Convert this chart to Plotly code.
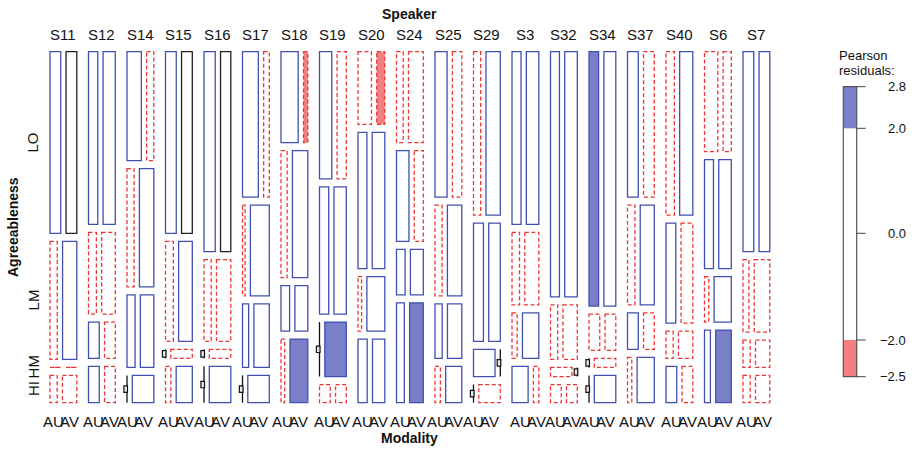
import numpy as np
import plotly.graph_objects as go

# ---- data: Speaker x Agreeableness x Modality frequencies ----
speakers = ["S11", "S12", "S14", "S15", "S16", "S17", "S18", "S19", "S20", "S24",
            "S25", "S29", "S3", "S32", "S34", "S37", "S40", "S6", "S7"]
levels = ["LO", "LM", "HM", "HI"]
modalities = ["AU", "AV"]

lo_au = [10, 8.2, 8, 10, 11.5, 11.8, 8, 8, 5, 3.1, 9, 6, 8, 11.2, 12.5, 8, 7, 6.8, 11]
lo_av = [10, 10.8, 4, 10, 10.5, 4.2, 2, 6, 3, 6.9, 7, 12, 11, 15.8, 15.5, 8, 11, 4.2, 11]
lm_au = [4.4, 3.3, 4.3, 4, 3, 1.2, 4, 6, 6.2, 5.8, 3.3, 6, 2.8, 2, 2, 3.8, 5, 5, 2.2]
lm_av = [8.6, 5.7, 8.7, 7, 6, 8.8, 10, 8, 8.8, 4.2, 6.7, 7, 5.2, 4, 2, 7.2, 6, 7, 5.8]
hm_au = [0, 2, 3, 0, 0, 2, 2, 0, 1, 2, 2, 3, 1.2, 1, 0, 2, 1, 1, 1]
hm_av = [0, 2, 5, 1, 1, 5, 3, 6, 5, 3, 4, 0, 3.8, 0, 1, 2, 2, 4, 2]
hi_au = [1, 2, 0, 1, 0, 0, 1.2, 1, 3, 4, 1, 0, 3, 1, 0, 1, 2, 2.2, 1]
hi_av = [2, 2, 3, 3, 4, 3, 5.8, 1, 4, 7, 3, 2, 1, 1, 3, 4, 2, 5.8, 2]

# Pearson residuals (approximate)
lo_res_au = [1, 1, 1, 1, 1, 1, 1, 1, -1, -1, 1, -1, 1, 1, 2.5, 1, -1, -1, 1]
lo_res_av = [0, 1, -1, 0, 0, -1, -2.3, -1, -2.4, -1, -1, 1, 1, 1, 1, -1, 1, -1, 1]
lm_res_au = [-1, -1, -1, -1, -1, -1, -1, 1, 1, 1, -1, 1, -1, -1, -1, -1, 1, 1, -1]
lm_res_av = [1, -1, 1, 1, -1, 1, 1, 1, 1, -1, 1, 1, -1, -1, -1, 1, -1, 1, -1]
hm_res_au = [-1, 1, 1, -1, -1, 1, 1, -1, -1, 1, 1, 1, -1, -1, -1, 1, -1, -1, -1]
hm_res_av = [-1, -1, 1, -1, -1, 1, 1, 2.4, 1, 1, 1, -1, 1, -1, -1, -1, -1, 1, -1]
hi_res_au = [-1, 1, -1, -1, -1, -1, -1, -1, 1, 1, -1, -1, 1, -1, -1, -1, 1, 1, -1]
hi_res_av = [-1, -1, 1, 1, 1, 1, 2.6, -1, 1, 2.5, 1, -1, -1, -1, 1, 1, -1, 2.7, -1]

legend_ticks = [2.8, 2.0, 0.0, -2.0, -2.5]

# ---- layout constants ----
X_LEFT, STEP, COL_W, MOD_GAP = 50.0, 38.5, 26.8, 5.3
Y_TOP, Y_BOT, LEV_GAP = 51.7, 402.7, 8.0
FONT = "Liberation Sans, Arial, sans-serif"

BLUE_LINE = "#4050b0"
BLUE_FILL = "#7a7fc8"
RED_LINE = "#ee3535"
RED_FILL = "#f47f7f"
DASH = "4px,2.5px"

au_counts = [lo_au, lm_au, hm_au, hi_au]
av_counts = [lo_av, lm_av, hm_av, hi_av]
au_res = [lo_res_au, lm_res_au, hm_res_au, hi_res_au]
av_res = [lo_res_av, lm_res_av, hm_res_av, hi_res_av]


def cell_style(r):
    if r > 2:
        return dict(fill=BLUE_FILL, color=BLUE_LINE, dash="solid")
    if r > 0:
        return dict(fill="rgba(0,0,0,0)", color=BLUE_LINE, dash="solid")
    if r == 0:
        return dict(fill="rgba(0,0,0,0)", color="#222222", dash="solid")
    if r >= -2:
        return dict(fill="rgba(0,0,0,0)", color=RED_LINE, dash=DASH)
    return dict(fill=RED_FILL, color=RED_LINE, dash=DASH)


shapes = []
annotations = []
marker_x, marker_y = [], []
first_col_centers = []
content_w = COL_W - MOD_GAP

for i, spk in enumerate(speakers):
    x0 = X_LEFT + i * STEP
    total = sum(au_counts[k][i] + av_counts[k][i] for k in range(4))
    unit = (Y_BOT - Y_TOP - 3 * LEV_GAP) / total
    y = Y_TOP
    label_pos = None
    for k in range(4):
        a, v = au_counts[k][i], av_counts[k][i]
        h = (a + v) * unit
        wa = content_w * a / (a + v) if a + v > 0 else content_w / 2
        cells = [
            (x0, x0 + wa, a, au_res[k][i], x0),
            (x0 + wa + MOD_GAP, x0 + COL_W, v, av_res[k][i], x0 + COL_W),
        ]
        centers = []
        for cx0, cx1, cnt, r, edge in cells:
            if cnt == 0 and a + v > 0:
                xl = cx0 if edge == x0 else cx1
                shapes.append(dict(type="line", xref="x", yref="y", x0=xl, x1=xl,
                                   y0=y, y1=y + h, line=dict(color="#111111", width=1.3)))
                marker_x.append(xl - 1.3)
                marker_y.append(y + h / 2)
                centers.append(xl)
            else:
                st = cell_style(r)
                shapes.append(dict(type="rect", xref="x", yref="y", x0=cx0, x1=cx1,
                                   y0=y, y1=y + h, fillcolor=st["fill"],
                                   line=dict(color=st["color"], width=1.3, dash=st["dash"])))
                centers.append((cx0 + cx1) / 2)
        if i == 0:
            first_col_centers.append(y + h / 2)
        if k == 3:
            label_pos = centers
        y += h + LEV_GAP

    # speaker label on top
    annotations.append(dict(x=x0 + COL_W / 2, y=34, text=spk, xref="x", yref="y",
                            showarrow=False, font=dict(family=FONT, size=15, color="#111")))
    # modality labels at the bottom
    for m, cx in zip(modalities, label_pos):
        annotations.append(dict(x=cx, y=421, text=m, xref="x", yref="y",
                                showarrow=False, font=dict(family=FONT, size=15, color="#111")))

# zero-count markers
for mx, my in zip(marker_x, marker_y):
    shapes.append(dict(type="rect", xref="x", yref="y", x0=mx - 1.8, x1=mx + 1.8,
                       y0=my - 3.2, y1=my + 3.2, fillcolor="#e8e8e8",
                       line=dict(color="#111111", width=1.2)))

# axis titles
annotations.append(dict(x=X_LEFT + (18 * STEP + COL_W) / 2, y=14, text="<b>Speaker</b>",
                        xref="x", yref="y", showarrow=False,
                        font=dict(family=FONT, size=14, color="#111")))
annotations.append(dict(x=X_LEFT + (18 * STEP + COL_W) / 2, y=438, text="<b>Modality</b>",
                        xref="x", yref="y", showarrow=False,
                        font=dict(family=FONT, size=14, color="#111")))
annotations.append(dict(x=13, y=227, text="<b>Agreeableness</b>", textangle=-90,
                        xref="x", yref="y", showarrow=False,
                        font=dict(family=FONT, size=14, color="#111")))
for lev, cy in zip(levels, first_col_centers):
    annotations.append(dict(x=33, y=cy, text=lev, textangle=-90, xref="x", yref="y",
                            showarrow=False, font=dict(family=FONT, size=15, color="#111")))

# ---- residual legend ----
LEG_X0, LEG_X1 = 843.3, 856.7
leg_vals = np.array([2.8, 2.0, 0.0, -2.0, -2.5])
leg_pos = np.array([86.7, 128.3, 233.3, 340.0, 376.7])


def leg_y(v):
    return float(np.interp(-v, -leg_vals, leg_pos))


shapes.append(dict(type="rect", xref="x", yref="y", x0=LEG_X0, x1=LEG_X1,
                   y0=leg_y(2.8), y1=leg_y(2.0), fillcolor=BLUE_FILL, line=dict(width=0)))
shapes.append(dict(type="rect", xref="x", yref="y", x0=LEG_X0, x1=LEG_X1,
                   y0=leg_y(-2.0), y1=leg_y(-2.5), fillcolor=RED_FILL, line=dict(width=0)))
shapes.append(dict(type="rect", xref="x", yref="y", x0=LEG_X0, x1=LEG_X1,
                   y0=leg_y(2.8), y1=leg_y(-2.5), fillcolor="rgba(0,0,0,0)",
                   line=dict(color="#555555", width=1.2)))
for t in legend_ticks:
    ty = leg_y(t)
    shapes.append(dict(type="line", xref="x", yref="y", x0=LEG_X1, x1=LEG_X1 + 9,
                       y0=ty, y1=ty, line=dict(color="#444444", width=1)))
    annotations.append(dict(x=908, y=ty, text=f"{t:.1f}".replace("-", "\u2212"),
                            xref="x", yref="y", xanchor="right", showarrow=False,
                            font=dict(family=FONT, size=13, color="#111")))
annotations.append(dict(x=837, y=55, text="Pearson", xref="x", yref="y", xanchor="left",
                        showarrow=False, font=dict(family=FONT, size=13, color="#111")))
annotations.append(dict(x=837, y=70, text="residuals:", xref="x", yref="y", xanchor="left",
                        showarrow=False, font=dict(family=FONT, size=13, color="#111")))

fig = go.Figure()
fig.add_trace(go.Scatter(x=[None], y=[None], mode="markers", hoverinfo="skip"))
fig.update_layout(
    width=915, height=449, margin=dict(l=0, r=0, t=0, b=0),
    paper_bgcolor="white", plot_bgcolor="white", showlegend=False,
    xaxis=dict(range=[0, 915], visible=False, fixedrange=True),
    yaxis=dict(range=[449, 0], visible=False, fixedrange=True),
    shapes=shapes, annotations=annotations,
)
fig.write_html("out.html")
